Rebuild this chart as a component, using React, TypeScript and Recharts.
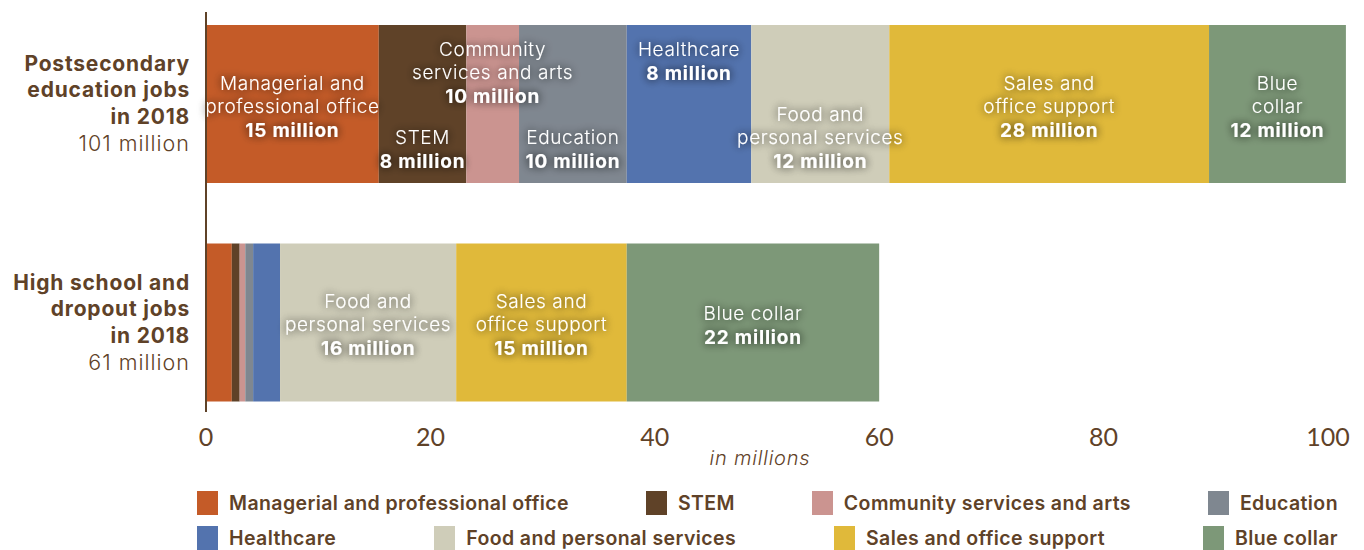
import { Bar, BarChart, LabelList, XAxis, YAxis } from 'recharts';

// Job counts by occupation cluster (millions)
const groups = ['Postsecondary education jobs in 2018', 'High school and dropout jobs in 2018'];
const groupTitleLines = [
  ['Postsecondary', 'education jobs', 'in 2018'],
  ['High school and', 'dropout jobs', 'in 2018'],
];
const groupTotals = ['101 million', '61 million'];

const categories = [
  'Managerial and professional office',
  'STEM',
  'Community services and arts',
  'Education',
  'Healthcare',
  'Food and personal services',
  'Sales and office support',
  'Blue collar',
];
const colors = ['#C45B28', '#5F4228', '#CB9490', '#7F8790', '#5373AE', '#CFCDB9', '#E0B93A', '#7D9878'];

const postsecondaryValues = [15.4, 7.8, 4.7, 9.6, 11.1, 12.3, 28.5, 12.2];
const highSchoolValues = [2.3, 0.7, 0.5, 0.7, 2.4, 15.7, 15.2, 22.5];

const postsecondaryLabels = ['15 million', '8 million', '10 million', '10 million', '8 million', '12 million', '28 million', '12 million'];
const highSchoolLabels = ['', '', '', '', '', '16 million', '15 million', '22 million'];

const postsecondaryNames = [
  ['Managerial and', 'professional office'],
  ['STEM'],
  ['Community', 'services and arts'],
  ['Education'],
  ['Healthcare'],
  ['Food and', 'personal services'],
  ['Sales and', 'office support'],
  ['Blue', 'collar'],
];
const highSchoolNames = [[], [], [], [], [], ['Food and', 'personal services'], ['Sales and', 'office support'], ['Blue collar']];

const xTicks = [0, 20, 40, 60, 80, 100];

const BROWN = '#5F4228';
const FONT = 'Inter, "Open Sans", sans-serif';
const TICK_FONT = 'Lato, "Open Sans", sans-serif';

// where the in-bar label sits, per segment of each bar
const placements = [
  ['middle', 'bottom', 'top', 'bottom', 'top', 'bottom', 'middle', 'middle'],
  ['middle', 'middle', 'middle', 'middle', 'middle', 'middle', 'middle', 'middle'],
];

const valueRows = [postsecondaryValues, highSchoolValues];
const labelRows = [postsecondaryLabels, highSchoolLabels];
const nameRows = [postsecondaryNames, highSchoolNames];

const data = groups.map((g, i) => {
  const row: Record<string, string | number> = { group: g };
  categories.forEach((c, j) => {
    row[c] = valueRows[i][j];
  });
  return row;
});

const XTick = (props: any) => {
  const { x, y, payload } = props;
  return (
    <text x={x} y={y} dy={14} textAnchor="middle" fill={BROWN} fontSize={25} fontFamily={TICK_FONT}>
      {payload.value}
    </text>
  );
};

const YTick = (props: any) => {
  const { x, y, payload } = props;
  const idx = groups.indexOf(payload.value);
  const lines = groupTitleLines[idx] || [];
  const offsets = [-41, -15, 12];
  return (
    <g>
      {lines.map((l, i) => (
        <text key={i} x={x} y={y + offsets[i] + 8} textAnchor="end" fill={BROWN} fontSize={21} fontWeight={700} fontFamily={FONT} letterSpacing={0.8}>
          {l}
        </text>
      ))}
      <text x={x} y={y + 39 + 8} textAnchor="end" fill={BROWN} fontSize={21.5} fontWeight={300} fontFamily={FONT} letterSpacing={1}>
        {groupTotals[idx]}
      </text>
    </g>
  );
};

const makeSegmentLabel = (catIndex: number) => (props: any) => {
  const vb = props.viewBox || props;
  const { x, y, width, height } = vb;
  const row = props.index;
  const value = labelRows[row]?.[catIndex];
  if (!value) return null;
  const lines = [...nameRows[row][catIndex], value];
  const n = lines.length;
  const rel = lines.map((_, i) => i * 23 + (i === n - 1 ? 1 : 0));
  const span = rel[n - 1];
  const mode = placements[row][catIndex];
  let first: number;
  if (mode === 'top') first = y + 24;
  else if (mode === 'bottom') first = y + height - 22 - span;
  else first = y + height / 2 + 2 - span / 2;
  const cx = x + width / 2;
  return (
    <g filter="url(#glow)">
      {lines.map((l, i) => (
        <text
          key={i}
          x={cx}
          y={first + rel[i] + 7}
          textAnchor="middle"
          fill="#FFFFFF"
          fontSize={19}
          fontWeight={i === n - 1 ? 700 : 300}
          fontFamily={FONT}
          letterSpacing={i === n - 1 ? 0.8 : 0.6}
        >
          {l}
        </text>
      ))}
    </g>
  );
};

const AxisNote = (props: any) => {
  const { viewBox } = props;
  return (
    <text x={viewBox.x + 554} y={viewBox.y + 33} textAnchor="middle" fill={BROWN} fontSize={20} fontWeight={300} fontStyle="italic" fontFamily={FONT} letterSpacing={0.8}>
      in millions
    </text>
  );
};

const legendRows = [
  [0, 1, 2, 3],
  [4, 5, 6, 7],
];

export default function App() {
  return (
    <div style={{ position: 'absolute', left: 0, top: 0, width: 1364, height: 550, background: '#FFFFFF', fontFamily: FONT, overflow: 'hidden' }}>
      <BarChart
        width={1364}
        height={472}
        data={data}
        layout="vertical"
        margin={{ top: -5, right: 13.6, bottom: 0, left: 0 }}
        barSize={158}
      >
        <defs>
          <filter id="glow" x="-30%" y="-80%" width="160%" height="260%">
            <feGaussianBlur in="SourceAlpha" stdDeviation="5" result="blur" />
            <feFlood floodColor="#000000" floodOpacity="0.45" />
            <feComposite in2="blur" operator="in" result="shadow" />
            <feMerge>
              <feMergeNode in="shadow" />
              <feMergeNode in="shadow" />
              <feMergeNode in="SourceGraphic" />
            </feMerge>
          </filter>
        </defs>
        <XAxis
          type="number"
          domain={[0, 102]}
          ticks={xTicks}
          axisLine={false}
          tickLine={false}
          tickSize={0}
          tickMargin={0}
          height={40}
          tick={<XTick />}
          label={<AxisNote />}
        />
        <YAxis
          type="category"
          dataKey="group"
          width={206}
          axisLine={false}
          tickLine={false}
          tickSize={0}
          tickMargin={16}
          tick={<YTick />}
        />
        {categories.map((c, i) => (
          <Bar key={c} dataKey={c} stackId="jobs" fill={colors[i]} isAnimationActive={false}>
            <LabelList dataKey={c} content={makeSegmentLabel(i)} />
          </Bar>
        ))}
      </BarChart>
      <div style={{ position: 'absolute', left: 205, top: 12, width: 2, height: 400, background: BROWN }} />
      <div style={{ position: 'absolute', left: 197, top: 491, width: 1141 }}>
        {legendRows.map((r, ri) => (
          <div key={ri} style={{ display: 'flex', justifyContent: 'space-between', height: ri === 0 ? 35 : 24 }}>
            {r.map((ci) => (
              <div key={ci} style={{ display: 'flex', alignItems: 'flex-start' }}>
                <div style={{ width: 21, height: 24, background: colors[ci], marginRight: 11 }} />
                <span style={{ color: BROWN, fontSize: 19.5, fontWeight: 600, lineHeight: '24px', letterSpacing: 0.4 }}>{categories[ci]}</span>
              </div>
            ))}
          </div>
        ))}
      </div>
    </div>
  );
}
